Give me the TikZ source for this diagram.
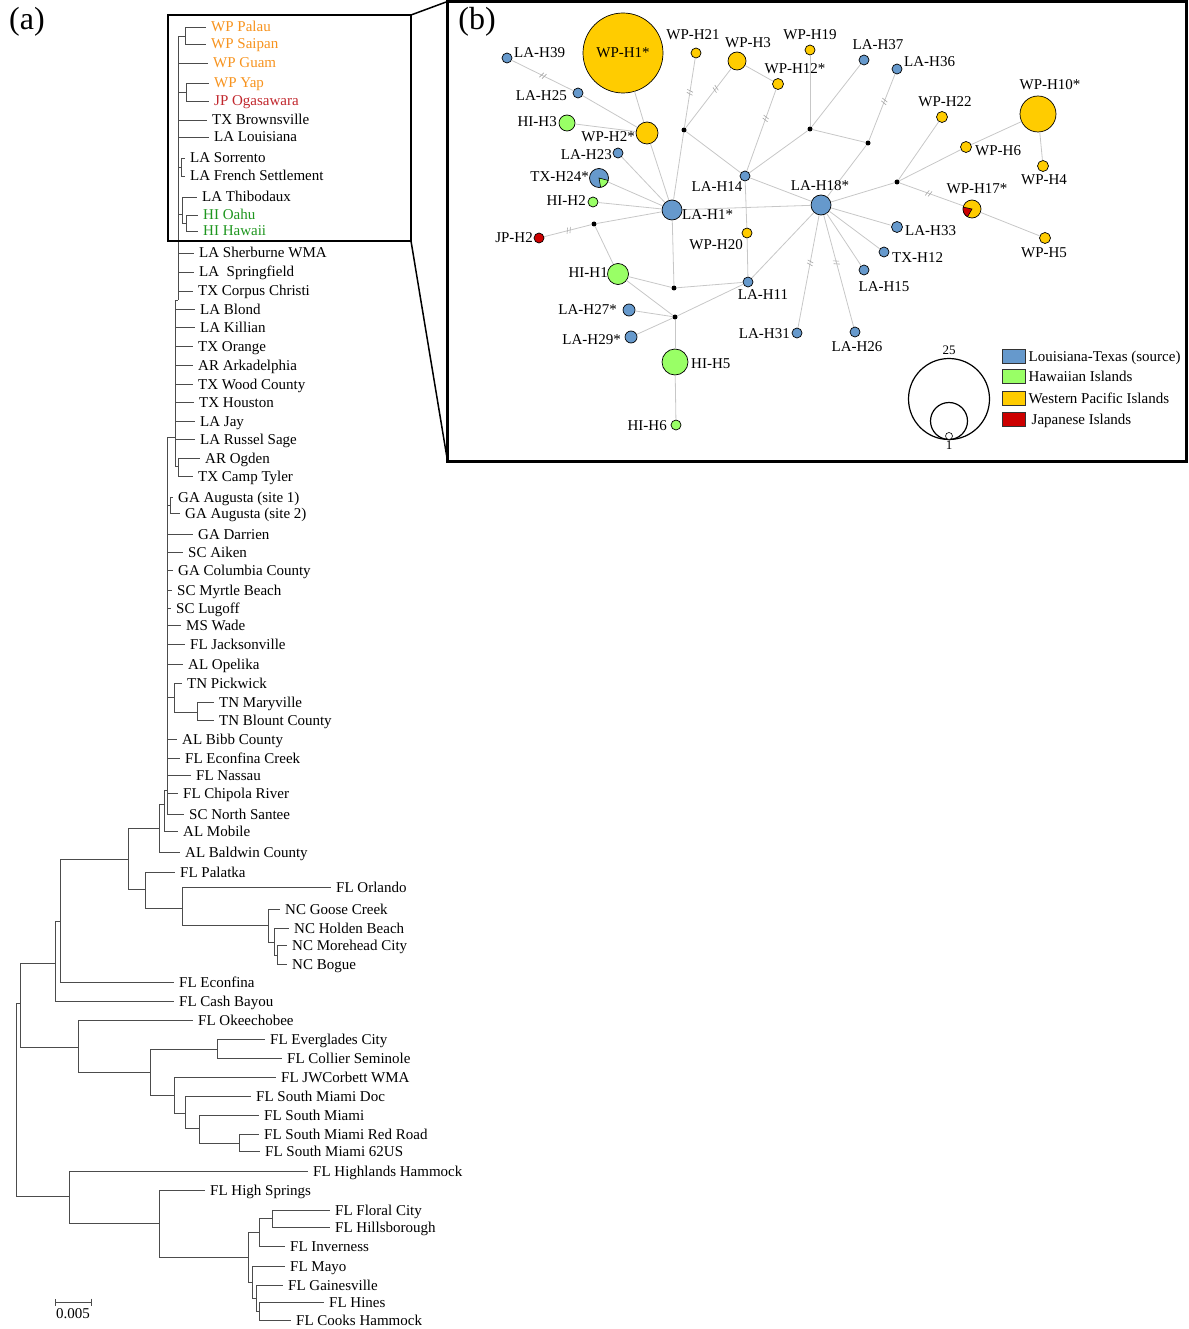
\documentclass[tikz,border=0pt]{standalone}
\usepackage{fontspec}
\setmainfont{Liberation Serif}
\usetikzlibrary{arrows.meta,positioning,decorations.markings}
\definecolor{cla}{HTML}{6699CC}
\definecolor{chi}{HTML}{99FF66}
\definecolor{cwp}{HTML}{FFCC00}
\definecolor{cjp}{HTML}{CC0000}
\definecolor{twp}{HTML}{F7931E}
\definecolor{tjp}{HTML}{C1272D}
\definecolor{thi}{RGB}{30,150,30}

\begin{document}
\begin{tikzpicture}[x=1pt, y=-1pt, font=\fontsize{15}{18}\selectfont,
  leaf/.style={anchor=west, inner xsep=5pt, inner ysep=0pt, text height=10pt, text depth=0pt},
  br/.style={draw=black!70, line width=0.9pt},
  hap/.style={circle, draw=black, line width=0.7pt, inner sep=0pt, minimum size=#1},
  jn/.style={circle, fill=black, inner sep=0pt, minimum size=5pt},
  lbl/.style={inner sep=0pt, text height=10pt, text depth=0pt},
  edge/.style={draw=black!22, line width=0.8pt},
  hatch/.style={postaction={decorate, decoration={markings,
    mark=at position #1 with {\draw[black!35, line width=0.6pt] (-2pt,-3pt) -- (0pt,3pt) (1pt,-3pt) -- (3pt,3pt);}}}},
  frame/.style={draw, inner sep=0pt, outer sep=0pt, anchor=north west},
  key/.style={draw=black!80, line width=1pt, minimum width=23pt, minimum height=14pt, inner sep=0pt}
]
\useasboundingbox (0,0) rectangle (1188,1329);

% panel letters
\node[font=\fontsize{32}{36}\selectfont] (pa) at (27,22) {(a)};
\node[font=\fontsize{32}{36}\selectfont] (pb) at (477,22) {(b)};

% ---- (a) tree, leaves
\node[leaf, text=twp] (pal) at (206,27) {WP Palau};
\node[leaf, text=twp] (sai) at (206,44) {WP Saipan};
\node[leaf, text=twp] (gua) at (208,63) {WP Guam};
\node[leaf, text=twp] (yap) at (209,83) {WP Yap};
\node[leaf, text=tjp] (oga) at (209,101) {JP Ogasawara};
\node[leaf] (bro) at (207,120) {TX Brownsville};
\node[leaf] (lou) at (209,137) {LA Louisiana};
\node[leaf] (sor) at (185,158) {LA Sorrento};
\node[leaf] (fre) at (185,176) {LA French Settlement};
\node[leaf] (thi) at (197,197) {LA Thibodaux};
\node[leaf, text=thi] (oah) at (198,215) {HI Oahu};
\node[leaf, text=thi] (haw) at (198,231) {HI Hawaii};
\foreach \n/\x/\y/\t in {she/194/253/LA Sherburne WMA, spr/194/272/LA~~Springfield,
  cor/193/291/TX Corpus Christi, blo/195/309/LA Blond, kil/195/327/LA Killian,
  ora/193/346/TX Orange, ark/193/365/AR Arkadelphia, woo/193/384/TX Wood County,
  hou/194/402/TX Houston, jay/195/421/LA Jay, rus/195/439/LA Russel Sage,
  ogd/200/458/AR Ogden, tyl/193/476/TX Camp Tyler,
  au1/173/497/GA Augusta (site 1), au2/180/513/GA Augusta (site 2),
  dar/193/534/GA Darrien, aik/183/552/SC Aiken, col/173/570/GA Columbia County,
  myr/172/590/SC Myrtle Beach, lug/171/608/SC Lugoff, wad/181/625/MS Wade,
  jac/185/644/FL Jacksonville, ope/183/664/AL Opelika, pic/182/683/TN Pickwick,
  mar/214/702/TN Maryville, blc/214/720/TN Blount County, bib/177/739/AL Bibb County,
  ecc/180/758/FL Econfina Creek, nas/191/775/FL Nassau, chi/178/793/FL Chipola River,
  san/184/814/SC North Santee, mob/178/831/AL Mobile, bal/180/852/AL Baldwin County,
  pak/175/872/FL Palatka, orl/331/887/FL Orlando, goo/280/909/NC Goose Creek,
  hol/289/928/NC Holden Beach, mor/287/945/NC Morehead City, bog/287/964/NC Bogue,
  eco/174/982/FL Econfina, cas/174/1001/FL Cash Bayou, oke/193/1020/FL Okeechobee,
  eve/265/1039/FL Everglades City, cls/282/1058/FL Collier Seminole,
  jwc/276/1077/FL JWCorbett WMA, smd/251/1096/FL South Miami Doc,
  smi/259/1115/FL South Miami, smr/259/1134/FL South Miami Red Road,
  smu/260/1151/FL South Miami 62US, hig/308/1171/FL Highlands Hammock,
  hsp/205/1190/FL High Springs, flo/330/1210/FL Floral City,
  hil/330/1227/FL Hillsborough, inv/285/1246/FL Inverness, may/285/1266/FL Mayo,
  gai/283/1285/FL Gainesville, hin/324/1302/FL Hines, coo/291/1320/FL Cooks Hammock}
  \node[leaf] (\n) at (\x,\y) {\t};

% ---- (a) tree, inner nodes
\coordinate (t0) at (16,1100);
\coordinate (t20) at (20,1003);
\coordinate (t55) at (55,963);
\coordinate (t60) at (60,921);
\coordinate (t128) at (128,859);
\coordinate (t145) at (145,889);
\coordinate (t182) at (182,908);
\coordinate (t268) at (268,925);
\coordinate (t274) at (274,942);
\coordinate (t277) at (277,955);
\coordinate (t159) at (159,828);
\coordinate (tpo) at (164,804);
\coordinate (tbig) at (167,790);
\coordinate (t170) at (170,505);
\coordinate (ttn) at (174,697);
\coordinate (t197) at (197,712);
\coordinate (tla) at (175,437);
\coordinate (togd) at (178,466);
\coordinate (ttop) at (178,300);
\coordinate (tps) at (185,36);
\coordinate (tyj) at (186,92);
\coordinate (tsf) at (181,167);
\coordinate (tth) at (182,214);
\coordinate (toh) at (186,223);
\coordinate (t78) at (78,1047);
\coordinate (t150) at (150,1072);
\coordinate (t217) at (217,1049);
\coordinate (t174) at (174,1095);
\coordinate (t185) at (185,1113);
\coordinate (t199) at (199,1128);
\coordinate (t239) at (239,1143);
\coordinate (thh) at (69,1196);
\coordinate (th159) at (159,1223);
\coordinate (t248) at (248,1257);
\coordinate (t259) at (259,1232);
\coordinate (t272) at (272,1218);
\coordinate (t252) at (252,1282);
\coordinate (t256) at (256,1298);
\coordinate (tcoo) at (259,1311);

\foreach \p/\c in {t0/t20, t0/thh, t20/t55, t20/t78, t55/t60, t55/cas,
  t60/t128, t60/eco, t128/t159, t128/t145, t145/pak, t145/t182,
  t182/orl, t182/t268, t268/goo, t268/t274, t274/hol, t274/t277,
  t277/mor, t277/bog, t159/tpo, t159/bal, tpo/tbig, tpo/mob,
  tbig/tla, tbig/t170, tbig/dar, tbig/aik, tbig/col, tbig/myr, tbig/lug,
  tbig/wad, tbig/jac, tbig/ope, tbig/ttn, tbig/bib, tbig/ecc, tbig/nas,
  tbig/chi, tbig/san, t170/au1, t170/au2, ttn/pic, ttn/t197,
  t197/mar, t197/blc, tla/ttop, tla/blo, tla/kil, tla/ora, tla/ark,
  tla/woo, tla/hou, tla/jay, tla/rus, tla/togd, togd/ogd, togd/tyl,
  ttop/tps, ttop/gua, ttop/tyj, ttop/bro, ttop/lou, ttop/tsf, ttop/tth,
  ttop/she, ttop/spr, ttop/cor, tps/pal, tps/sai, tyj/yap, tyj/oga,
  tsf/sor, tsf/fre, tth/thi, tth/toh, toh/oah, toh/haw,
  t78/oke, t78/t150, t150/t217, t150/t174, t217/eve, t217/cls,
  t174/jwc, t174/t185, t185/smd, t185/t199, t199/smi, t199/t239,
  t239/smr, t239/smu, thh/hig, thh/th159, th159/hsp, th159/t248,
  t248/t259, t248/t252, t259/t272, t259/inv, t272/flo, t272/hil,
  t252/may, t252/t256, t256/gai, t256/tcoo, tcoo/hin, tcoo/coo}
  \draw[br] (\p) |- (\c);

% scale bar
\coordinate (sb1) at (55,1302);
\coordinate (sb2) at (92,1302);
\draw[br, {Bar[width=7pt]}-{Bar[width=7pt]}] (sb1) -- (sb2);
\node (sbl) at (73,1314) {0.005};

% ---- frames
\node[frame, line width=2.5pt, minimum width=243pt, minimum height=226pt] (zoom) at (168,15) {};
\node[frame, line width=3pt, minimum width=739pt, minimum height=459.5pt] (panelb) at (447.5,1.5) {};
\draw[line width=1.5pt] (zoom.north east) -- (panelb.north west);
\draw[line width=1.5pt] (zoom.south east) -- (panelb.south west);

% ---- (b) haplotype network
\node[hap=80pt, fill=cwp] (wp1) at (623,53) {WP-H1*};
\node[hap=10pt, fill=cla] (h39) at (507,58) {};
\node[hap=10pt, fill=cwp] (wp21) at (696,53) {};
\node[hap=18pt, fill=cwp] (wp3) at (737,61) {};
\node[hap=10pt, fill=cwp] (wp19) at (810,50) {};
\node[hap=11pt, fill=cwp] (wp12) at (778,84) {};
\node[hap=10pt, fill=cla] (h37) at (864,60) {};
\node[hap=10pt, fill=cla] (h36) at (897,69) {};
\node[hap=10pt, fill=cla] (h25) at (578,93) {};
\node[hap=11pt, fill=cwp] (wp22) at (942,117) {};
\node[hap=36pt, fill=cwp] (wp10) at (1038,114) {};
\node[hap=16pt, fill=chi] (hi3) at (567,123) {};
\node[hap=22pt, fill=cwp] (wp2) at (647,133) {};
\node[hap=10pt, fill=cla] (h23) at (618,153) {};
\node[hap=11pt, fill=cwp] (wp6) at (966,147) {};
\node[hap=19pt, fill=cla] (tx24) at (599,178) {};
\node[hap=10pt, fill=cla] (h14) at (745,176) {};
\node[hap=20pt, fill=cla] (h18) at (821,205) {};
\node[hap=11pt, fill=cwp] (wp4) at (1043,166) {};
\node[hap=18pt, fill=cwp] (wp17) at (972,209) {};
\node[hap=10pt, fill=chi] (hi2) at (593,202) {};
\node[hap=20pt, fill=cla] (h1) at (672,210) {};
\node[hap=10pt, fill=cwp] (wp20) at (747,233) {};
\node[hap=11pt, fill=cla] (h33) at (897,227) {};
\node[hap=10pt, fill=cjp] (jp2) at (539,238) {};
\node[hap=10pt, fill=cla] (tx12) at (884,252) {};
\node[hap=21pt, fill=chi] (hi1) at (618,274) {};
\node[hap=10pt, fill=cla] (h15) at (864,270) {};
\node[hap=10pt, fill=cla] (h11) at (748,282) {};
\node[hap=12pt, fill=cla] (h27) at (629,310) {};
\node[hap=10pt, fill=cla] (h31) at (797,333) {};
\node[hap=12pt, fill=cla] (h29) at (631,337) {};
\node[hap=10pt, fill=cla] (h26) at (855,332) {};
\node[hap=26pt, fill=chi] (hi5) at (675,362) {};
\node[hap=11pt, fill=cwp] (wp5) at (1045,238) {};
\node[hap=10pt, fill=chi] (hi6) at (676,425) {};
\node[jn] (j1) at (684,130) {};
\node[jn] (j2) at (810,129) {};
\node[jn] (j3) at (594,224) {};
\node[jn] (j4) at (868,143) {};
\node[jn] (j5) at (897,182) {};
\node[jn] (j6) at (674,288) {};
\node[jn] (j7) at (675,317) {};

% mixed haplotypes
\filldraw[fill=chi, draw=black, line width=0.6pt] (tx24.center) -- ++(-80:9.5pt)
  arc[start angle=-80, end angle=-15, radius=9.5pt] -- cycle;
\filldraw[fill=cjp, draw=black, line width=0.6pt] (wp17.center) -- ++(168:9pt)
  arc[start angle=168, end angle=240, radius=9pt] -- cycle;

% links
\foreach \a/\b in {wp1/wp2, hi3/wp2, h25/wp2, wp2/h1, h23/h1, tx24/h1, hi2/h1,
  j3/h1, j3/hi1, h1/j1, j1/h14, wp3/wp12, h14/j2, j2/wp19, j2/h37, j2/j4,
  j4/h18, h14/h18, h14/wp20, wp20/h11, h1/h18, h1/j6, j6/hi1, j6/h11,
  h11/h18, hi1/j7, j7/h11, j7/h27, j7/h29, j7/hi5, hi5/hi6, h18/h15,
  h18/tx12, h18/h33, h18/j5, j5/wp22, j5/wp6, wp6/wp10, wp10/wp4, wp17/wp5}
  \draw[edge] (\a) -- (\b);
\foreach \a/\b/\p in {h39/h25/0.5, j1/wp21/0.5, j1/wp3/0.65, wp12/h14/0.35,
  j4/h36/0.58, j5/wp17/0.45, h18/h31/0.42, h18/h26/0.42, j3/jp2/0.47}
  \draw[edge, hatch=\p] (\a) -- (\b);

% haplotype names
\node[lbl, anchor=west] (h39t) at (514,53) {LA-H39};
\node[lbl, anchor=west] (h36t) at (904,62) {LA-H36};
\node[lbl, anchor=west] (wp6t) at (975,151) {WP-H6};
\node[lbl, anchor=west] (h1t) at (682,215) {LA-H1*};
\node[lbl, anchor=west] (h33t) at (905,231) {LA-H33};
\node[lbl, anchor=west] (tx12t) at (892,258) {TX-H12};
\node[lbl, anchor=west] (hi5t) at (691,363) {HI-H5};
\node[lbl, anchor=east] (h25t) at (567,96) {LA-H25};
\node[lbl, anchor=east] (hi3t) at (557,122) {HI-H3};
\node[lbl, anchor=east] (wp2t) at (635,137) {WP-H2*};
\node[lbl, anchor=east] (h23t) at (612,155) {LA-H23};
\node[lbl, anchor=east] (tx24t) at (589,177) {TX-H24*};
\node[lbl, anchor=east] (hi2t) at (586,201) {HI-H2};
\node[lbl, anchor=east] (wp20t) at (743,245) {WP-H20};
\node[lbl, anchor=east] (jp2t) at (533,238) {JP-H2};
\node[lbl, anchor=east] (hi1t) at (608,273) {HI-H1};
\node[lbl, anchor=east] (h27t) at (617,310) {LA-H27*};
\node[lbl, anchor=east] (h31t) at (790,333) {LA-H31};
\node[lbl, anchor=east] (h29t) at (621,339) {LA-H29*};
\node[lbl, anchor=east] (hi6t) at (667,425) {HI-H6};
\node[lbl] (wp21t) at (693,35) {WP-H21};
\node[lbl] (wp3t) at (748,43) {WP-H3};
\node[lbl] (wp19t) at (810,35) {WP-H19};
\node[lbl] (wp12t) at (795,69) {WP-H12*};
\node[lbl] (h37t) at (878,45) {LA-H37};
\node[lbl] (wp22t) at (945,102) {WP-H22};
\node[lbl] (wp10t) at (1050,85) {WP-H10*};
\node[lbl] (h14t) at (717,187) {LA-H14};
\node[lbl] (h18t) at (820,186) {LA-H18*};
\node[lbl] (wp4t) at (1044,180) {WP-H4};
\node[lbl] (wp17t) at (977,189) {WP-H17*};
\node[lbl] (h15t) at (884,287) {LA-H15};
\node[lbl] (h11t) at (763,294) {LA-H11};
\node[lbl] (h26t) at (857,346) {LA-H26};
\node[lbl] (wp5t) at (1044,253) {WP-H5};

% size key
\node[circle, draw, line width=1.2pt, inner sep=0pt, minimum size=81pt] (s25) at (949,399) {};
\node[circle, draw, line width=1.2pt, inner sep=0pt, minimum size=37pt] (s5) at (949,421) {};
\node[circle, draw, fill=white, line width=0.6pt, inner sep=0pt, minimum size=7pt] (s1) at (949,436) {};
\node[font=\fontsize{13}{15}\selectfont, above=0pt of s25] (s25t) {25};
\node[font=\fontsize{13}{15}\selectfont, below=-2pt of s1] (s1t) {1};

% colour key
\node[key, fill=cla] (kla) at (1013.5,356) {};
\node[key, fill=chi] (khi) at (1013.5,376) {};
\node[key, fill=cwp] (kwp) at (1013.5,398) {};
\node[key, fill=cjp] (kjp) at (1013.5,419) {};
\node[lbl, right=3pt of kla] (klat) {Louisiana-Texas (source)};
\node[lbl, right=3pt of khi] (khit) {Hawaiian Islands};
\node[lbl, right=3pt of kwp] (kwpt) {Western Pacific Islands};
\node[lbl, right=6pt of kjp] (kjpt) {Japanese Islands};
\end{tikzpicture}
\end{document}
